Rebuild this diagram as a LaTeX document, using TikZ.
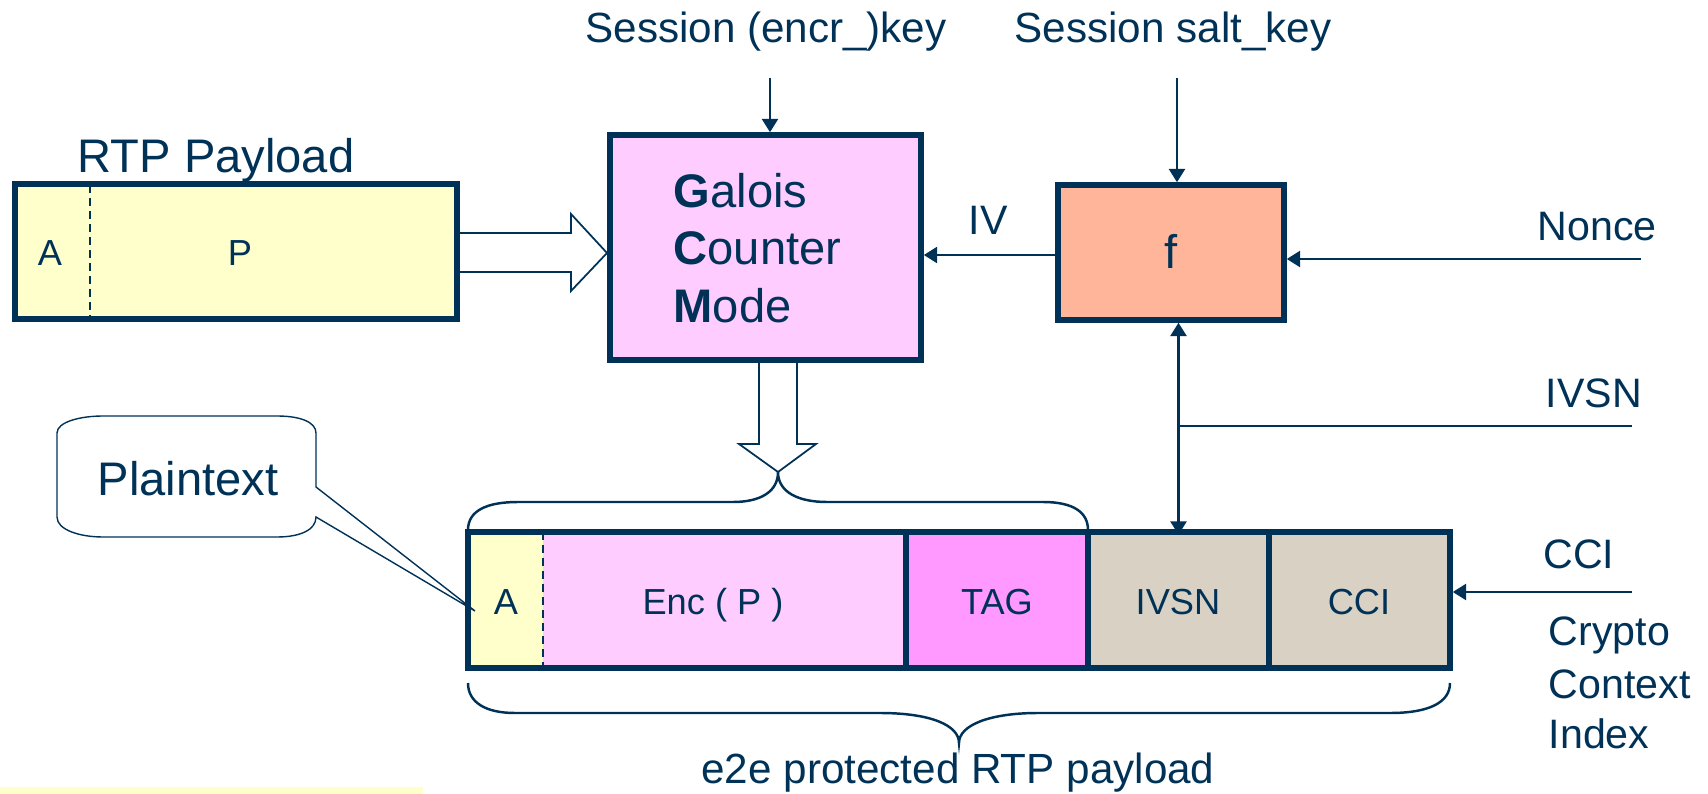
\documentclass[tikz,border=0pt]{standalone}
\usepackage{fontspec}
\setmainfont{Liberation Sans}
\usetikzlibrary{arrows.meta,calc}
\definecolor{navy}{RGB}{0,50,88}
\definecolor{ylw}{RGB}{255,255,204}
\definecolor{pnk}{RGB}{255,204,255}
\definecolor{mag}{RGB}{255,153,255}
\definecolor{sal}{RGB}{255,181,153}
\definecolor{bge}{RGB}{217,209,195}
\begin{document}
\begin{tikzpicture}[x=0.01cm,y=-0.01cm,
  box/.style={draw=navy,line width=1.56pt,inner sep=0pt},
  cell/.style={draw=none,inner sep=0pt,outer sep=0pt,minimum height=1.36cm},
  border/.style={draw=navy,line width=1.56pt},
  arr/.style={draw=navy,line width=0.6pt,-{Triangle[length=3.8pt,width=4.6pt]}},
  darr/.style={draw=navy,line width=0.6pt,{Triangle[length=3.8pt,width=4.6pt]}-{Triangle[length=3.8pt,width=4.6pt]}},
  plain/.style={draw=navy,line width=0.6pt},
  hollow/.style={draw=navy,line width=0.5pt},
  brace/.style={draw=navy,line width=0.7pt},
  lbl/.style={text=navy,inner sep=0pt},
  fS/.style={font=\fontsize{12pt}{14pt}\selectfont},
  fL/.style={font=\fontsize{13.4pt}{16pt}\selectfont},
  fM/.style={font=\fontsize{11.7pt}{14pt}\selectfont},
  fB/.style={font=\fontsize{10.3pt}{12pt}\selectfont}]
\useasboundingbox (0,0) rectangle (1708,794);
% bottom-left strip
\fill[ylw] (0,787) rectangle (423,794);
% RTP payload box
\node[box,fill=ylw,minimum width=4.42cm,minimum height=1.35cm] (rtp) at (236,251.5) {};
\draw[navy,line width=0.45pt,dash pattern=on 2.3pt off 1.4pt] (90,185) -- (90,318);
\node[lbl,fB,anchor=base] (ra) at (50,266) {A};
\node[lbl,fB,anchor=base] (rp) at (240,266) {P};
\node[lbl,fL,anchor=base] (rtpl) at (216,173) {RTP Payload};
% GCM box
\node[box,fill=pnk,minimum width=3.11cm,minimum height=2.25cm] (gcm) at (765.5,247.5) {};
\node[lbl,fL,anchor=base west] (g1) at (673,208) {\bfseries G\mdseries alois};
\node[lbl,fL,anchor=base west] (g2) at (673,265) {\bfseries C\mdseries ounter};
\node[lbl,fL,anchor=base west] (g3) at (673,323) {\bfseries M\mdseries ode};
% f box
\node[box,fill=sal,minimum width=2.26cm,minimum height=1.35cm] (f) at (1171,252.5) {};
\node[lbl,fL,anchor=base] (fl) at (1171,269) {f};
% top labels and key arrows
\node[lbl,fS,anchor=base] (sk) at (766,43) {Session (encr\_)key};
\node[lbl,fS,anchor=base] (ss) at (1173,43) {Session salt\_key};
\coordinate (k1) at (770,78);
\coordinate (k2) at (1177,78);
\draw[arr] (k1) -- (k1 |- gcm.north);
\draw[arr] (k2) -- (k2 |- f.north);
% IV
\draw[arr] (f.west |- 0,255) -- (gcm.east |- 0,255);
\node[lbl,fM,anchor=base] (iv) at (988,235) {IV};
% Nonce
\coordinate (nc) at (1641,259);
\draw[arr] (nc) -- (nc -| f.east);
\node[lbl,fM,anchor=base] (ncl) at (1597,241) {Nonce};
% bottom packet
\node[cell,fill=ylw,minimum width=0.75cm] (ca) at (505.5,600) {};
\node[cell,fill=pnk,minimum width=3.63cm] (ce) at (724.5,600) {};
\node[cell,fill=mag,minimum width=1.82cm] (ct) at (997,600) {};
\node[cell,fill=bge,minimum width=1.81cm] (ci) at (1178.5,600) {};
\node[cell,fill=bge,minimum width=1.81cm] (cc) at (1359.5,600) {};
\draw[border] (ca.north west) rectangle (cc.south east);
\draw[border] (ct.north west) -- (ct.south west);
\draw[border] (ci.north west) -- (ci.south west);
\draw[border] (cc.north west) -- (cc.south west);
\draw[navy,line width=0.45pt,dash pattern=on 2.3pt off 1.4pt] (ca.north east) -- (ca.south east);
\node[lbl,fB,anchor=base] (cal) at (506,614) {A};
\node[lbl,fB,anchor=base] (cel) at (713,614) {Enc ( P )};
\node[lbl,fB,anchor=base] (ctl) at (997,614) {TAG};
\node[lbl,fB,anchor=base] (cil) at (1178,614) {IVSN};
\node[lbl,fB,anchor=base] (ccl) at (1359,614) {CCI};
% IVSN link
\draw[darr] ([yshift=-0.78pt]ci.north) -- (ci.north |- f.south);
\coordinate (iv2) at (1632,426);
\draw[plain] (iv2) -- (iv2 -| ci.north);
\node[lbl,fM,anchor=base] (ivl) at (1594,407) {IVSN};
% CCI link
\coordinate (cci2) at (1632,592);
\draw[arr] (cci2) -- ([xshift=0.78pt]cci2 -| cc.east);
\node[lbl,fM,anchor=base] (cclr) at (1579,568) {CCI};
\node[lbl,fM,anchor=base west] (cr1) at (1548,645) {Crypto};
\node[lbl,fM,anchor=base west] (cr2) at (1548,698) {Context};
\node[lbl,fM,anchor=base west] (cr3) at (1548,748) {Index};
% hollow arrows
\draw[hollow] (459,233) -- (571,233) -- (571,214) -- (607,253) -- (571,291) -- (571,272) -- (459,272);
\draw[hollow] (759,363) -- (759,444) -- (739,444) -- (778,472) -- (816,444) -- (797,444) -- (797,363);
% top brace
\draw[brace] (468,530) .. controls (468,510) and (488,502) .. (518,502) -- (733,502)
  .. controls (760,502) and (778,492) .. (778,472)
  .. controls (778,492) and (798,502) .. (827,502) -- (1043,502)
  .. controls (1073,502) and (1088,512) .. (1088,530);
% bottom brace
\draw[brace] (468,683) .. controls (468,702) and (485,713) .. (515,713) -- (880,713)
  .. controls (930,713) and (959,725) .. (959,743)
  .. controls (959,725) and (990,713) .. (1038,713) -- (1390,713)
  .. controls (1430,713) and (1450,702) .. (1450,683);
\node[lbl,fS,anchor=base] (e2e) at (958,783) {e2e protected RTP payload};
% Plaintext callout
\draw[navy,line width=0.4pt,fill=white] (57,433) .. controls (57,422) and (80,416) .. (103,416) -- (277,416)
  .. controls (300,416) and (316,422) .. (316,433) -- (316,487) -- (475,611) -- (316,517)
  .. controls (316,530) and (300,537) .. (277,537) -- (103,537)
  .. controls (80,537) and (57,530) .. (57,517) -- cycle;
\node[lbl,fL,anchor=base] (pt) at (188,495) {Plaintext};
\end{tikzpicture}
\end{document}
